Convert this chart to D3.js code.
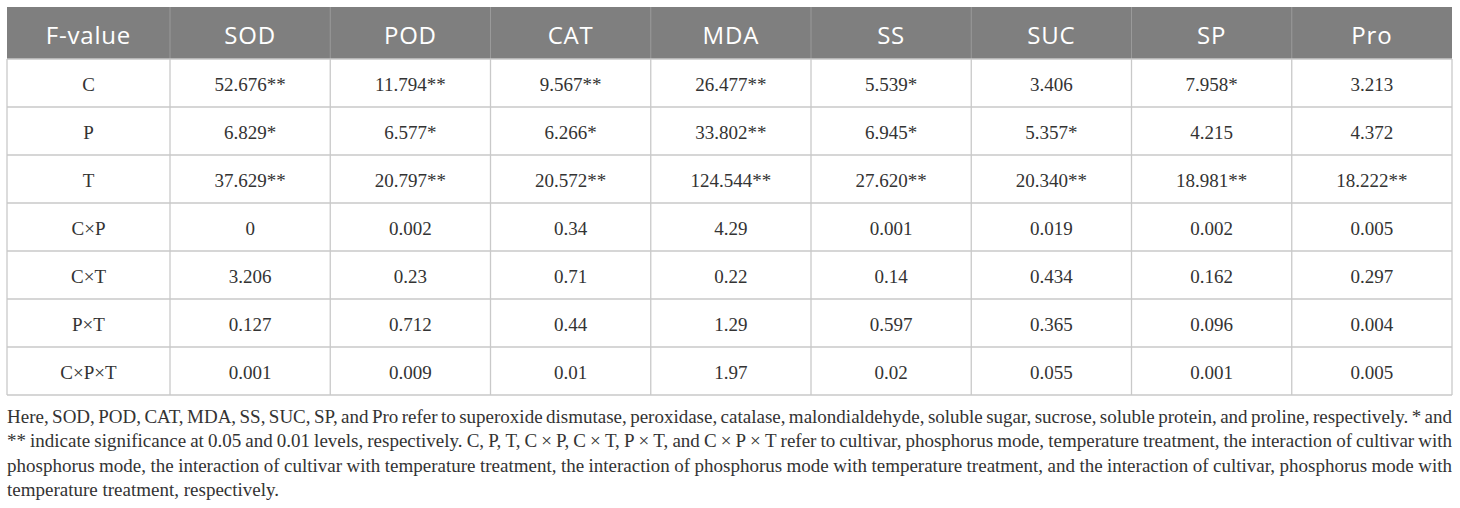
<!DOCTYPE html>
<html><head><meta charset="utf-8">
<script src="https://cdn.jsdelivr.net/npm/d3@7"></script>
<style>html,body{margin:0;padding:0;background:#fff;}svg{display:block;}</style>
</head><body>
<svg id="chart" width="1460" height="508"></svg>
<script>
const columns = ["F-value","SOD","POD","CAT","MDA","SS","SUC","SP","Pro"];
const rowLabels = ["C","P","T","C×P","C×T","P×T","C×P×T"];
const SOD = ["52.676**","6.829*","37.629**","0","3.206","0.127","0.001"];
const POD = ["11.794**","6.577*","20.797**","0.002","0.23","0.712","0.009"];
const CAT = ["9.567**","6.266*","20.572**","0.34","0.71","0.44","0.01"];
const MDA = ["26.477**","33.802**","124.544**","4.29","0.22","1.29","1.97"];
const SS  = ["5.539*","6.945*","27.620**","0.001","0.14","0.597","0.02"];
const SUC = ["3.406","5.357*","20.340**","0.019","0.434","0.365","0.055"];
const SP  = ["7.958*","4.215","18.981**","0.002","0.162","0.096","0.001"];
const Pro = ["3.213","4.372","18.222**","0.005","0.297","0.004","0.005"];
const footnoteLines = [
 "Here, SOD, POD, CAT, MDA, SS, SUC, SP, and Pro refer to superoxide dismutase, peroxidase, catalase, malondialdehyde, soluble sugar, sucrose, soluble protein, and proline, respectively. * and",
 "** indicate significance at 0.05 and 0.01 levels, respectively. C, P, T, C × P, C × T, P × T, and C × P × T refer to cultivar, phosphorus mode, temperature treatment, the interaction of cultivar with",
 "phosphorus mode, the interaction of cultivar with temperature treatment, the interaction of phosphorus mode with temperature treatment, and the interaction of cultivar, phosphorus mode with",
 "temperature treatment, respectively."
];

const seriesCols = [SOD,POD,CAT,MDA,SS,SUC,SP,Pro];
const rows = rowLabels.map((lab,i)=>[lab, ...seriesCols.map(c=>c[i])]);

const svg = d3.select("#chart");
const tLeft = 7, tRight = 1452, firstW = 163;
const tTop = 7, headH = 52, rowH = 48;
const gridColor = "#c9c9c9";

const colEdges = [tLeft, tLeft+firstW];
const cw = (tRight - (tLeft+firstW)) / (columns.length-1);
for (let i=1;i<columns.length;i++) colEdges.push(tLeft+firstW+cw*i);
const colCenter = i => (colEdges[i]+colEdges[i+1])/2;

const y = d3.scaleBand().domain(d3.range(rows.length)).range([tTop+headH, tTop+headH+rowH*rows.length]);

// header
svg.append("rect").attr("x",tLeft).attr("y",tTop).attr("width",tRight-tLeft).attr("height",headH).attr("fill","#7f7f7f");
svg.append("g").selectAll("text").data(columns).join("text")
  .attr("x",(d,i)=>colCenter(i)).attr("y",tTop+headH/2+1)
  .attr("text-anchor","middle").attr("dominant-baseline","central")
  .attr("font-family","'Open Sans', sans-serif").attr("font-size",24).attr("letter-spacing",0.8).attr("fill","#fff")
  .text(d=>d);

colEdges.slice(1,-1).forEach(x=>{
  svg.append("line").attr("x1",x).attr("x2",x).attr("y1",tTop).attr("y2",tTop+headH).attr("stroke","#9a9a9a").attr("stroke-width",1);
});
const g = svg.append("g").attr("stroke",gridColor).attr("stroke-width",1.3).attr("fill","none");
const tBottom = tTop+headH+rowH*rows.length;
colEdges.forEach(x=>g.append("line").attr("x1",x).attr("x2",x).attr("y1",tTop+headH).attr("y2",tBottom));
d3.range(rows.length+1).forEach(i=>{
  const yy = tTop+headH+rowH*i;
  g.append("line").attr("x1",tLeft).attr("x2",tRight).attr("y1",yy).attr("y2",yy);
});

// cells
const body = svg.append("g").attr("font-family","'Liberation Serif', 'Times New Roman', serif").attr("font-size",19).attr("fill","#333");
rows.forEach((r,ri)=>{
  r.forEach((v,ci)=>{
    body.append("text").attr("x",colCenter(ci)).attr("y",y(ri)+rowH/2+1.5)
      .attr("text-anchor","middle").attr("dominant-baseline","central").text(v);
  });
});

// footnote, justified
const fn = svg.append("g").attr("font-family","'Liberation Serif', 'Times New Roman', serif").attr("font-size",19).attr("fill","#333");
const lineY = [423, 447, 471.5, 496];
footnoteLines.forEach((line,li)=>{
  const words = line.split(" ");
  const ts = words.map(w=>fn.append("text").attr("y",lineY[li]).text(w));
  const widths = ts.map(t=>t.node().getComputedTextLength());
  const total = d3.sum(widths);
  const justify = li < footnoteLines.length-1;
  const spaceW = justify ? (tRight-tLeft-total)/(words.length-1) : 4.75;
  let x = tLeft;
  ts.forEach((t,i)=>{ t.attr("x",x); x += widths[i]+spaceW; });
});
</script>
</body></html>
